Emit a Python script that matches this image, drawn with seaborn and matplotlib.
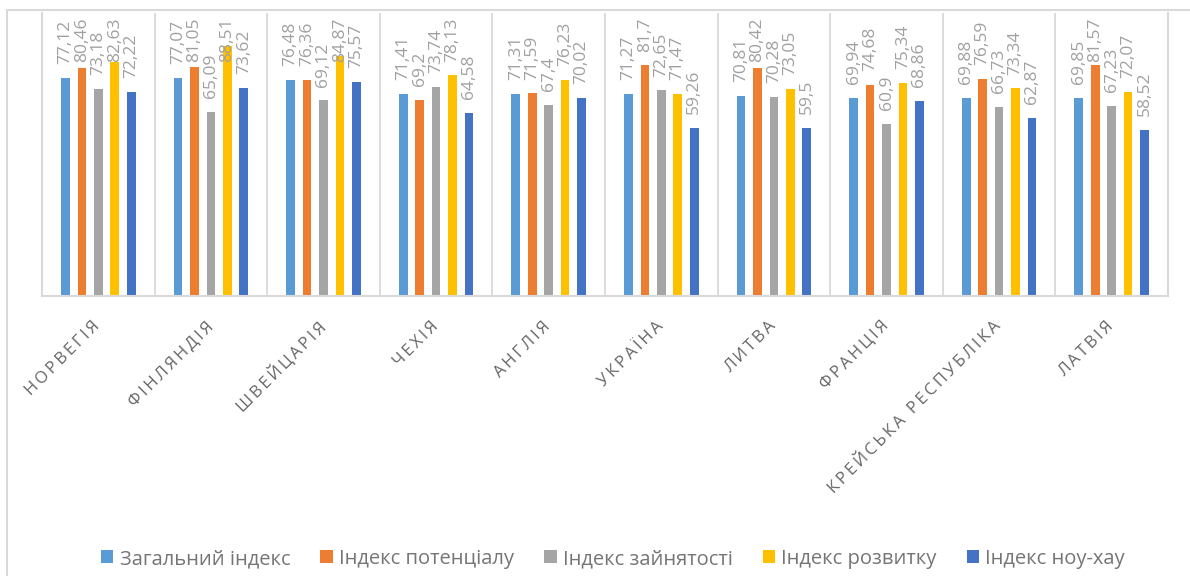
import matplotlib
matplotlib.use("Agg")
import matplotlib.pyplot as plt
import matplotlib.transforms as mtransforms
from matplotlib.patches import Rectangle
import numpy as np
import pandas as pd
import seaborn as sns

countries = ["НОРВЕГІЯ", "ФІНЛЯНДІЯ", "ШВЕЙЦАРІЯ", "ЧЕХІЯ", "АНГЛІЯ",
             "УКРАЇНА", "ЛИТВА", "ФРАНЦІЯ", "КРЕЙСЬКА РЕСПУБЛІКА", "ЛАТВІЯ"]
series_names = ["Загальний індекс", "Індекс потенціалу", "Індекс зайнятості",
                "Індекс розвитку", "Індекс ноу-хау"]
general = [77.12, 77.07, 76.48, 71.41, 71.31, 71.27, 70.81, 69.94, 69.88, 69.85]
potential = [80.46, 81.05, 76.36, 69.2, 71.59, 81.7, 80.42, 74.68, 76.59, 81.57]
employment = [73.18, 65.09, 69.12, 73.74, 67.4, 72.65, 70.28, 60.9, 66.73, 67.23]
development = [82.63, 88.51, 84.87, 78.13, 76.23, 71.47, 73.05, 75.34, 73.34, 72.07]
knowhow = [72.22, 73.62, 75.57, 64.58, 70.02, 59.26, 59.5, 68.86, 62.87, 58.52]
colors = ["#5B9BD5", "#ED7D31", "#A5A5A5", "#FFC000", "#4472C4"]

series_values = [general, potential, employment, development, knowhow]
df = pd.DataFrame({
    "country": np.tile(countries, len(series_names)),
    "index": np.repeat(series_names, len(countries)),
    "value": np.concatenate(series_values),
})

sns.set_theme(style="white")
plt.rcParams["font.family"] = ["Open Sans", "DejaVu Sans"]

W, H = 1190, 576
fig = plt.figure(figsize=(W / 100, H / 100), dpi=100)
ax = fig.add_axes([42 / W, 1 - 296 / H, (1168 - 42) / W, (296 - 13) / H])

sns.barplot(data=df, x="country", y="value", hue="index", order=countries,
            hue_order=series_names, palette=colors, saturation=1,
            width=0.73, gap=0.47, linewidth=0, errorbar=None, ax=ax)

ax.set_ylim(0, 100)
ax.set_xlim(-0.5, len(countries) - 0.5)
ax.set_yticks([])
ax.set_xlabel("")
ax.set_ylabel("")

# value labels above each bar, decimal comma
label_texts = []
for cont, vals in zip(ax.containers, series_values):
    label_texts += ax.bar_label(cont, labels=[str(v).replace(".", ",") for v in vals],
                                rotation=90, padding=10, fontsize=12.5,
                                color="#A0A0A0")

# category separators and frame
grid_c = "#D9D9D9"
ax.set_xticks(np.arange(-0.5, len(countries), 1.0), minor=True)
ax.grid(which="minor", axis="x", color=grid_c, linewidth=1.3)
ax.grid(which="major", visible=False)
ax.tick_params(axis="x", which="both", length=0)
for side in ["left", "right", "bottom"]:
    ax.spines[side].set_visible(True)
    ax.spines[side].set_color(grid_c)
    ax.spines[side].set_linewidth(1.5)
ax.spines["top"].set_visible(False)

# spaced capitals for category names
spaced = ["\u2009".join(list(c)) for c in countries]
ax.set_xticks(range(len(countries)))
ax.set_xticklabels(spaced, rotation=45, ha="right", va="top",
                   rotation_mode="anchor", fontsize=12, color="#666666")
ax.tick_params(axis="x", pad=16)
shift = mtransforms.ScaledTranslation(-6 / 100, 0, fig.dpi_scale_trans)
for lbl in ax.get_xticklabels():
    lbl.set_transform(lbl.get_transform() + shift)

# legend along the bottom
handles, labels = ax.get_legend_handles_labels()
ax.get_legend().remove()
fig.legend(handles, labels, loc="center", bbox_to_anchor=(613 / W, 1 - 559 / H),
           ncol=5, frameon=False, fontsize=14.5, labelcolor="#757575",
           handlelength=0.62, handleheight=0.62, handletextpad=0.3,
           columnspacing=1.5)

# outer chart border
fig.patches.append(Rectangle((7 / W, -0.2), 1.2, 1 - 10 / H + 0.2,
                             transform=fig.transFigure, fill=False,
                             edgecolor=grid_c, linewidth=1.5))

# keep value labels inside the plot area: tall ones stop just below its top
fig.canvas.draw()
renderer = fig.canvas.get_renderer()
limit_px = fig.bbox.height - 18
for t in label_texts:
    bb = t.get_window_extent(renderer)
    if bb.y1 > limit_px:
        dy_pt = (bb.y1 - limit_px) * 72 / fig.dpi
        ox, oy = t.xyann
        t.xyann = (ox, oy - dy_pt)

fig.savefig("out.png", dpi=100, facecolor="white")
